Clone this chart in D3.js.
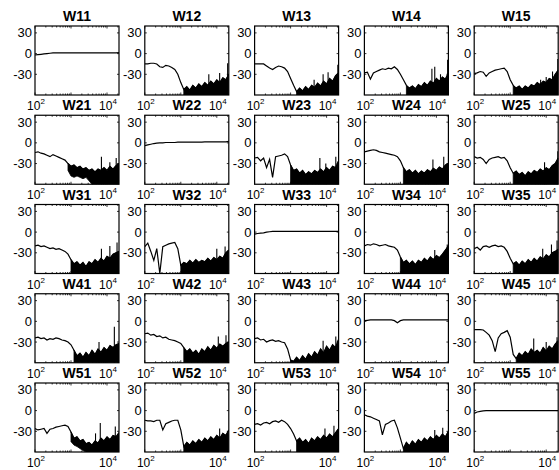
<!DOCTYPE html>
<html>
<head>
<meta charset="utf-8">
<style>
  body { margin: 0; background: #fff; }
  text { font-family: "Liberation Sans", Arial, sans-serif; fill: #000; }
  .ttl { font-size: 14px; font-weight: bold; }
  .tk { font-size: 12px; }
  .ytk { font-size: 13px; }
</style>
</head>
<body>
<script src="https://cdn.jsdelivr.net/npm/d3@7"></script>
<script>
const _ = null;
// frequency grid in Hz (1/12 decade steps)
const freqs = [100, 121, 147, 178, 215, 261, 316, 383, 464, 562, 681, 825, 1000, 1212, 1468, 1778, 2154, 2610, 3162, 3831, 4642, 5623, 6813, 8254, 10000, 12115, 14678, 17783, 21544];
const yTicks = [30, 0, -30];
const xLabels = [100, 10000];
const names = [
  ["W11", "W12", "W13", "W14", "W15"],
  ["W21", "W22", "W23", "W24", "W25"],
  ["W31", "W32", "W33", "W34", "W35"],
  ["W41", "W42", "W43", "W44", "W45"],
  ["W51", "W52", "W53", "W54", "W55"]
];

// magnitude (dB): line / upper edge of the noisy band
const w11 = [-2,-1.5,-1,-0.5,0,0.5,1,1,1,1,1,1,1,1,1,1,1,1,1,1,1,1,1,1,1,1,1,1,1.5];
const w12 = [-15,-15,-14,-14,-15,-19,-20,-17,-18,-20,-23,-30,-42,-52,-48,-53,-46,-50,-44,-48,-42,-46,-40,-44,-38,-42,-35,-38,-30];
const w13 = [-15,-15,-15,-15,-18,-21,-23,-20,-18,-19,-21,-26,-36,-46,-55,-50,-54,-48,-52,-46,-49,-43,-47,-40,-44,-36,-40,-32,-28];
const w14 = [-28,-27,-37,-28,-26,-24,-22,-23,-21,-22,-19,-23,-30,-38,-46,-50,-47,-51,-45,-48,-42,-46,-40,-43,-36,-40,-34,-37,-28];
const w15 = [-29,-28,-26,-27,-33,-28,-26,-24,-23,-22,-21,-26,-38,-46,-50,-47,-52,-47,-50,-45,-47,-42,-45,-40,-42,-36,-38,-30,-24];
const w21 = [-14,-13,-15,-16,-18,-20,-17,-19,-21,-23,-25,-30,-34,-32,-36,-34,-38,-36,-40,-38,-42,-38,-40,-36,-40,-34,-38,-33,-30];
const w22 = [-4,-3,-2,-1,-0.5,0,0,0.5,0.5,0.5,0.5,1,1,1,1,1,1,1,1,1,1.5,1.5,1.5,1.5,1.5,1.5,1.5,1.5,2];
const w23 = [-22,-21,-26,-22,-36,-24,-50,-20,-19,-18,-16,-20,-32,-40,-38,-44,-40,-46,-42,-45,-40,-43,-38,-42,-36,-40,-34,-36,-26];
const w24 = [-13,-12,-11,-10,-11,-13,-14,-15,-16,-17,-18,-20,-26,-36,-42,-39,-44,-40,-45,-41,-44,-39,-42,-37,-40,-35,-38,-32,-30];
const w25 = [-20,-22,-21,-24,-30,-24,-22,-21,-20,-22,-21,-26,-36,-44,-41,-46,-43,-48,-42,-45,-40,-43,-38,-41,-36,-39,-33,-30,-22];
const w31 = [-20,-19,-21,-20,-22,-24,-23,-25,-24,-26,-28,-32,-40,-46,-43,-48,-44,-50,-43,-46,-40,-44,-38,-42,-35,-38,-32,-30,-28];
const w32 = [-21,-16,-28,-41,-24,-60,-21,-19,-17,-16,-15,-24,-48,-44,-46,-41,-45,-40,-44,-41,-43,-38,-42,-37,-40,-35,-38,-30,-26];
const w33 = [-3,-2,-1.5,-1,0,0.5,1,1,1,1,1,1,1,1,1,1,1,1,1,1,1,1,1,1,1,1,1,1,1];
const w34 = [-20,-18,-19,-17,-18,-20,-19,-18,-20,-21,-22,-26,-36,-44,-41,-46,-42,-47,-41,-44,-38,-42,-36,-40,-34,-37,-32,-26,-20];
const w35 = [-24,-22,-26,-21,-20,-22,-20,-19,-21,-20,-22,-28,-38,-46,-43,-48,-42,-46,-40,-44,-38,-42,-36,-39,-33,-36,-30,-28,-25];
const w41 = [-24,-23,-25,-24,-27,-25,-26,-24,-25,-27,-28,-30,-34,-42,-50,-46,-52,-45,-50,-42,-48,-40,-45,-38,-42,-35,-38,-34,-32];
const w42 = [-18,-17,-20,-19,-22,-21,-24,-23,-26,-27,-28,-30,-32,-38,-44,-40,-46,-42,-48,-40,-44,-37,-42,-35,-39,-33,-36,-32,-30];
const w43 = [-25,-24,-27,-26,-30,-28,-27,-29,-28,-30,-31,-40,-56,-58,-52,-57,-50,-55,-47,-52,-44,-49,-40,-46,-36,-42,-34,-38,-26];
const w44 = [1,1.5,2,2,2,2,2,2,2,2,1,-2,1,2,2,2,2,2,2,2,2,2,2,2,2,2,2,2,2];
const w45 = [-12,-12,-12,-12.5,-16,-20,-28,-44,-24,-18,-16,-13.5,-23,-48,-54,-46,-50,-44,-48,-40,-45,-42,-46,-38,-43,-36,-40,-33,-28];
const w51 = [-26,-28,-27,-26,-33,-27,-26,-24,-23,-22,-21,-23,-31,-40,-38,-44,-42,-48,-46,-50,-44,-47,-40,-44,-38,-42,-36,-38,-32];
const w52 = [-14,-15,-15,-16,-14,-14,-28,-19,-17,-15,-14,-14,-28,-52,-46,-50,-44,-48,-42,-46,-40,-44,-38,-42,-36,-40,-33,-36,-28];
const w53 = [-20,-19,-21,-18,-17,-19,-16,-15,-17,-14,-16,-20,-26,-34,-44,-40,-46,-42,-48,-40,-44,-38,-42,-36,-40,-34,-38,-32,-26];
const w54 = [-6,-8,-9,-11,-13,-15,-35,-20,-18,-15,-14,-25,-40,-55,-46,-51,-44,-49,-42,-46,-40,-44,-38,-42,-36,-40,-34,-38,-30];
const w55 = [-4,-2,-1,-0.5,0,0,0,0,0,0,0,0,0,0,0,0,0,0,0,0,0,0,0,0,0,0,0,0,0];

// lower edge of the noisy band (null = plain line)
const w12lo = [_,_,_,_,_,_,_,_,_,_,_,_,_,-60,-60,-60,-60,-60,-60,-60,-60,-60,-60,-60,-60,-60,-60,-60,-60];
const w13lo = [_,_,_,_,_,_,_,_,_,_,_,_,_,_,-60,-60,-60,-60,-60,-60,-60,-60,-60,-60,-60,-60,-60,-60,-60];
const w14lo = [_,_,_,_,_,_,_,_,_,_,_,_,_,_,-60,-60,-60,-60,-60,-60,-60,-60,-60,-60,-60,-60,-60,-60,-60];
const w15lo = [_,_,_,_,_,_,_,_,_,_,_,_,_,-60,-60,-60,-60,-60,-60,-60,-60,-60,-60,-60,-60,-60,-60,-60,-60];
const w21lo = [_,_,_,_,_,_,_,_,_,_,_,-40,-48,-50,-48,-50,-52,-50,-55,-60,-60,-60,-60,-60,-60,-60,-60,-60,-60];
const w23lo = [_,_,_,_,_,_,_,_,_,_,_,_,-60,-60,-60,-60,-60,-60,-60,-60,-60,-60,-60,-60,-60,-60,-60,-60,-60];
const w24lo = [_,_,_,_,_,_,_,_,_,_,_,_,_,-60,-60,-60,-60,-60,-60,-60,-60,-60,-60,-60,-60,-60,-60,-60,-60];
const w25lo = [_,_,_,_,_,_,_,_,_,_,_,_,_,-60,-60,-60,-60,-60,-60,-60,-60,-60,-60,-60,-60,-60,-60,-60,-60];
const w31lo = [_,_,_,_,_,_,_,_,_,_,_,_,-60,-60,-60,-60,-60,-60,-60,-60,-60,-60,-60,-60,-60,-60,-60,-60,-60];
const w32lo = [_,_,_,_,_,_,_,_,_,_,_,_,-60,-60,-60,-60,-60,-60,-60,-60,-60,-60,-60,-60,-60,-60,-60,-60,-60];
const w34lo = [_,_,_,_,_,_,_,_,_,_,_,_,-60,-60,-60,-60,-60,-60,-60,-60,-60,-60,-60,-60,-60,-60,-60,-60,-60];
const w35lo = [_,_,_,_,_,_,_,_,_,_,_,_,_,-60,-60,-60,-60,-60,-60,-60,-60,-60,-60,-60,-60,-60,-60,-60,-60];
const w41lo = [_,_,_,_,_,_,_,_,_,_,_,_,_,-60,-60,-60,-60,-60,-60,-60,-60,-60,-60,-60,-60,-60,-60,-60,-60];
const w42lo = [_,_,_,_,_,_,_,_,_,_,_,_,_,-60,-60,-60,-60,-60,-60,-60,-60,-60,-60,-60,-60,-60,-60,-60,-60];
const w43lo = [_,_,_,_,_,_,_,_,_,_,_,_,-60,-60,-60,-60,-60,-60,-60,-60,-60,-60,-60,-60,-60,-60,-60,-60,-60];
const w45lo = [_,_,_,_,_,_,_,_,_,_,_,_,_,_,-60,-60,-60,-60,-60,-60,-60,-60,-60,-60,-60,-60,-60,-60,-60];
const w51lo = [_,_,_,_,_,_,_,_,_,_,_,_,-45,-50,-52,-55,-58,-60,-60,-60,-60,-60,-60,-60,-60,-60,-60,-60,-60];
const w52lo = [_,_,_,_,_,_,_,_,_,_,_,_,_,-60,-60,-60,-60,-60,-60,-60,-60,-60,-60,-60,-60,-60,-60,-60,-60];
const w53lo = [_,_,_,_,_,_,_,_,_,_,_,_,_,_,-60,-60,-60,-60,-60,-60,-60,-60,-60,-60,-60,-60,-60,-60,-60];
const w54lo = [_,_,_,_,_,_,_,_,_,_,_,_,_,-60,-60,-60,-60,-60,-60,-60,-60,-60,-60,-60,-60,-60,-60,-60,-60];

// isolated tall spikes inside the noisy band: [Hz, dB]
const w12sp = [[6000, -30], [12000, -28], [20000, -14]];
const w13sp = [[4500, -38], [8000, -30], [11000, -27], [20500, -16]];
const w14sp = [[7500, -22], [9000, -19], [13000, -30], [20500, -9]];
const w15sp = [[7000, -38], [10000, -34], [15000, -26], [21000, -8]];
const w21sp = [[7000, -20], [12000, -28], [18000, -22]];
const w23sp = [[6500, -22], [9500, -30], [18000, -20]];
const w24sp = [[8000, -24], [16000, -20]];
const w25sp = [[9000, -28], [21000, -12]];
const w31sp = [[7000, -24], [12000, -20], [19000, -15]];
const w32sp = [[10000, -24], [17000, -21]];
const w34sp = [[9000, -26], [20000, -18]];
const w35sp = [[8000, -24], [14000, -18], [20000, -12]];
const w41sp = [[6000, -30], [16000, -8]];
const w42sp = [[11000, -22], [18000, -20]];
const w43sp = [[8000, -28], [18000, -22]];
const w45sp = [[4500, -25], [10000, -30], [20000, -23]];
const w51sp = [[4800, -33], [6500, -18], [17000, -23]];
const w52sp = [[12000, -26]];
const w53sp = [[9000, -26], [16000, -22]];
const w54sp = [[9000, -28], [15000, -25]];

const mags = [
  [w11, w12, w13, w14, w15],
  [w21, w22, w23, w24, w25],
  [w31, w32, w33, w34, w35],
  [w41, w42, w43, w44, w45],
  [w51, w52, w53, w54, w55]
];
const lows = [
  [null, w12lo, w13lo, w14lo, w15lo],
  [w21lo, null, w23lo, w24lo, w25lo],
  [w31lo, w32lo, null, w34lo, w35lo],
  [w41lo, w42lo, w43lo, null, w45lo],
  [w51lo, w52lo, w53lo, w54lo, null]
];
const spikes = [
  [[], w12sp, w13sp, w14sp, w15sp],
  [w21sp, [], w23sp, w24sp, w25sp],
  [w31sp, w32sp, [], w34sp, w35sp],
  [w41sp, w42sp, w43sp, [], w45sp],
  [w51sp, w52sp, w53sp, w54sp, []]
];

var W = 559, H = 470;
var pw = 84, ph = 69;
var colStep = 109.8, rowStep = 89.25;
var left0 = 35, top0 = 26;

var svg = d3.select("body").append("svg")
  .attr("width", W).attr("height", H);
svg.append("rect").attr("width", W).attr("height", H).attr("fill", "#fff");

var x = d3.scaleLog().domain([freqs[0], freqs[freqs.length - 1]]).range([0, pw]);
var y = d3.scaleLinear().domain([-60, 40]).range([ph, 0]);

// minor ticks on the log axis
var xMinor = [];
[100, 1000, 10000].forEach(function(dec) {
  for (var m = 1; m < 10; m++) {
    var f = dec * m;
    if (f <= freqs[freqs.length - 1]) xMinor.push(f);
  }
});

svg.append("defs").append("clipPath").attr("id", "clip")
  .append("rect").attr("width", pw).attr("height", ph);

for (var r = 0; r < 5; r++) {
  for (var c = 0; c < 5; c++) {
    var g = svg.append("g")
      .attr("transform", "translate(" + (left0 + c * colStep) + "," + (top0 + r * rowStep) + ")");

    var hi = mags[r][c], lo = lows[r][c];
    var plot = g.append("g").attr("clip-path", "url(#clip)");

    if (lo) {
      var area = d3.area()
        .defined(function(d, i) { return lo[i] != null; })
        .x(function(d, i) { return x(freqs[i]); })
        .y0(function(d, i) { return y(lo[i]); })
        .y1(function(d) { return y(d); });
      plot.append("path").datum(hi)
        .attr("d", area)
        .attr("fill", "#000")
        .attr("stroke", "#000")
        .attr("stroke-width", 0.8);
    }

    plot.selectAll("line.sp").data(spikes[r][c]).enter().append("line")
      .attr("x1", d => x(d[0])).attr("x2", d => x(d[0]))
      .attr("y1", y(-60)).attr("y2", d => y(d[1]))
      .attr("stroke", "#000").attr("stroke-width", 1.1);

    var line = d3.line()
      .x(function(d, i) { return x(freqs[i]); })
      .y(function(d) { return y(d); });
    plot.append("path").datum(hi)
      .attr("d", line)
      .attr("fill", "none")
      .attr("stroke", "#000")
      .attr("stroke-width", 1.2);

    // ticks inside the box
    xMinor.forEach(function(f) {
      var len = (f === 100 || f === 1000 || f === 10000) ? 2.5 : 1.5;
      g.append("line").attr("x1", x(f)).attr("x2", x(f))
        .attr("y1", ph).attr("y2", ph - len).attr("stroke", "#000").attr("stroke-width", 0.8);
      g.append("line").attr("x1", x(f)).attr("x2", x(f))
        .attr("y1", 0).attr("y2", len).attr("stroke", "#000").attr("stroke-width", 0.8);
    });
    yTicks.forEach(function(t) {
      g.append("line").attr("x1", 0).attr("x2", 2).attr("y1", y(t)).attr("y2", y(t))
        .attr("stroke", "#000").attr("stroke-width", 0.8);
      g.append("line").attr("x1", pw).attr("x2", pw - 2).attr("y1", y(t)).attr("y2", y(t))
        .attr("stroke", "#000").attr("stroke-width", 0.8);
    });

    g.append("rect").attr("width", pw).attr("height", ph)
      .attr("fill", "none").attr("stroke", "#000").attr("stroke-width", 1.2);

    // labels
    g.append("text").attr("class", "ttl")
      .attr("x", pw / 2).attr("y", -5)
      .attr("text-anchor", "middle")
      .text(names[r][c]);

    yTicks.forEach(function(t) {
      g.append("text").attr("class", "ytk")
        .attr("x", -3).attr("y", y(t) + 4.5)
        .attr("text-anchor", "end")
        .text(t);
    });

    xLabels.forEach(function(f) {
      var tx = g.append("text").attr("class", "tk")
        .attr("x", x(f) + 1).attr("y", ph + 15)
        .attr("text-anchor", "middle");
      tx.append("tspan").text("10");
      tx.append("tspan").attr("dy", -6).style("font-size", "8px")
        .text(Math.round(Math.log10(f)));
    });
  }
}
</script>
</body>
</html>
